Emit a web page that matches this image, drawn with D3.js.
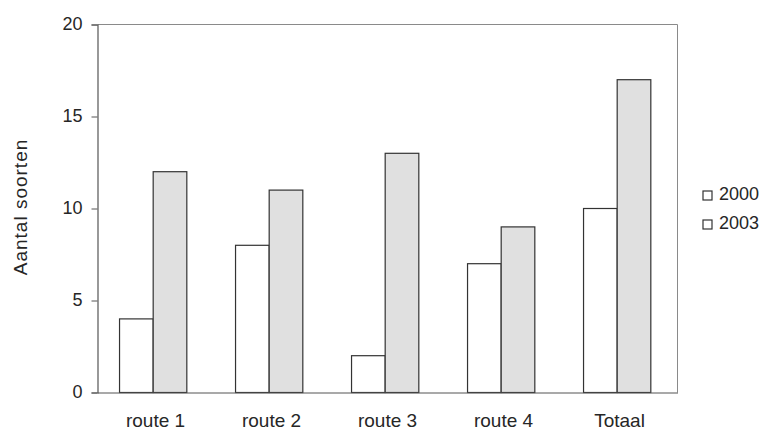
<!DOCTYPE html>
<html>
<head>
<meta charset="utf-8">
<script src="https://cdn.jsdelivr.net/npm/d3@7"></script>
<style>
  html, body { margin: 0; padding: 0; background: #fff; }
  svg { display: block; font-family: "Liberation Sans", Arial, sans-serif; }
</style>
</head>
<body>
<svg id="chart" width="766" height="430"></svg>
<script>
// Number of species per route, counted in 2000 and 2003
const categories = ["route 1", "route 2", "route 3", "route 4", "Totaal"];
const seriesNames = ["2000", "2003"];
const values2000 = [4, 8, 2, 7, 10];
const values2003 = [12, 11, 13, 9, 17];
const yTicks = [0, 5, 10, 15, 20];
const yTitle = "Aantal soorten";

const rows = categories.map((c, i) => ({ cat: c, vals: [values2000[i], values2003[i]] }));

const svg = d3.select("#chart");
const plot = { left: 97.5, right: 677.5, top: 24.5, bottom: 392.5 };

const x0 = d3.scaleBand().domain(categories).range([plot.left, plot.right]).padding(0);
const bw = x0.bandwidth();
const x1 = d3.scaleBand().domain(seriesNames).range([bw * 0.19, bw * 0.77]).padding(0);
const y = d3.scaleLinear().domain([0, 20]).range([plot.bottom, plot.top]);

const fills = { "2000": "#ffffff", "2003": "#e0e0e0" };
const ink = "#262626";

// plot frame (top and right edges lighter)
svg.append("line").attr("x1", plot.left).attr("x2", plot.right).attr("y1", plot.top).attr("y2", plot.top)
  .attr("stroke", "#8a8a8a").attr("stroke-width", 1);
svg.append("line").attr("x1", plot.right).attr("x2", plot.right).attr("y1", plot.top).attr("y2", plot.bottom)
  .attr("stroke", "#8a8a8a").attr("stroke-width", 1);

// bars
const groups = svg.append("g").selectAll("g").data(rows).join("g")
  .attr("transform", d => `translate(${x0(d.cat)},0)`);
groups.selectAll("rect").data(d => d.vals.map((v, i) => ({ key: seriesNames[i], v }))).join("rect")
  .attr("x", d => x1(d.key))
  .attr("y", d => y(d.v))
  .attr("width", x1.bandwidth())
  .attr("height", d => y(0) - y(d.v))
  .attr("fill", d => fills[d.key])
  .attr("stroke", "#333")
  .attr("stroke-width", 1.2);

// y axis
const yAxis = svg.append("g").attr("transform", `translate(${plot.left},0)`)
  .call(d3.axisLeft(y).tickValues(yTicks).tickSize(6).tickPadding(9).tickFormat(d3.format("d")));
yAxis.select(".domain").attr("stroke", "#555").attr("stroke-width", 1.2);
yAxis.selectAll(".tick line").attr("stroke", "#555");
yAxis.selectAll(".tick text").attr("font-size", 18).attr("fill", ink)
  .attr("font-family", "'Liberation Sans', Arial, sans-serif").attr("dy", "0.3em");

// x axis
const xAxis = svg.append("g").attr("transform", `translate(0,${plot.bottom})`)
  .call(d3.axisBottom(x0).tickSize(0).tickPadding(28));
xAxis.select(".domain").attr("stroke", "#555").attr("stroke-width", 1.2);
xAxis.selectAll(".tick text").attr("font-size", 19).attr("fill", ink)
  .attr("font-family", "'Liberation Sans', Arial, sans-serif").attr("dy", "0.35em");

// y axis title
svg.append("text")
  .attr("transform", `translate(27,207) rotate(-90)`)
  .attr("text-anchor", "middle")
  .attr("font-size", 19).attr("letter-spacing", 1).attr("fill", ink)
  .text(yTitle);

// legend
const legend = svg.append("g").selectAll("g").data(seriesNames).join("g")
  .attr("transform", (d, i) => `translate(703,${200 + i * 29})`);
legend.append("rect").attr("x", 0).attr("y", -9).attr("width", 9).attr("height", 9)
  .attr("fill", "#fff").attr("stroke", "#333").attr("stroke-width", 1.2);
legend.append("text").attr("x", 16).attr("y", 0)
  .attr("font-size", 18).attr("fill", ink).text(d => d);
</script>
</body>
</html>
